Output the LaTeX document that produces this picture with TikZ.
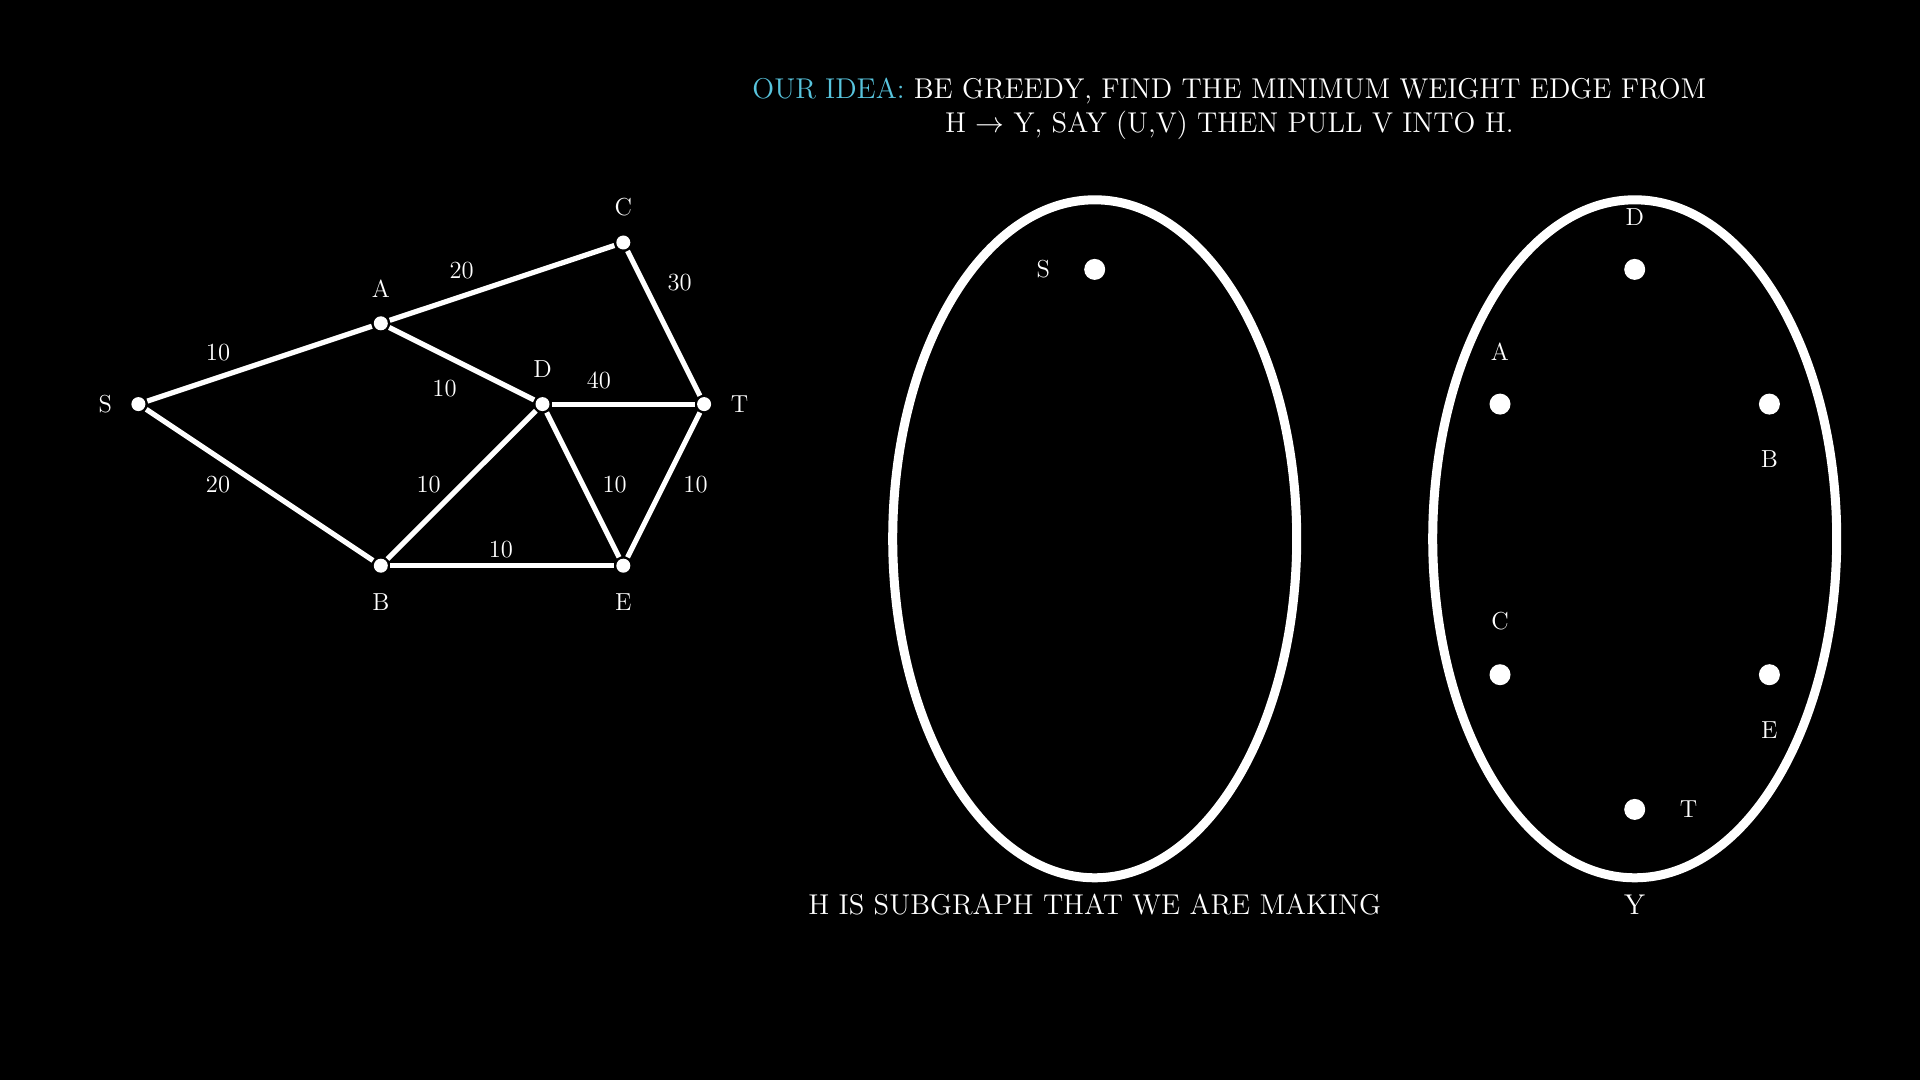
\documentclass[tikz,border=0pt]{standalone}
\usepackage{xcolor}
\usepackage{tikz}
\usetikzlibrary{shapes.geometric,positioning}

\definecolor{ideablue}{HTML}{58C4DD}

\begin{document}
\begin{tikzpicture}[
    x=0.5pt, y=-0.5pt,
    vert/.style={circle, fill=white, minimum size=7pt, inner sep=0pt, outer sep=1.2pt},
    bigvert/.style={circle, fill=white, minimum size=10.5pt, inner sep=0pt},
    lbl/.style={text=white, font=\fontsize{12.3}{14}\selectfont, inner sep=1pt},
    wt/.style={text=white, font=\fontsize{12.3}{14}\selectfont, inner sep=1pt},
    txt/.style={text=white, font=\fontsize{14.3}{17.2}\selectfont, align=center},
    edge/.style={white, line width=2.6pt},
    set/.style={draw=white, ellipse, line width=4.5pt, minimum width=202pt, minimum height=339pt, inner sep=0pt},
]

\useasboundingbox (0,0) rectangle (1920,1080);
\fill[black] (0,0) rectangle (1920,1080);

% Title
\node[txt] (title) at (1229.4,109.0) {\textcolor{ideablue}{OUR IDEA:} BE GREEDY, FIND THE MINIMUM WEIGHT EDGE FROM\\
  H $\rightarrow$ Y, SAY (U,V) THEN PULL V INTO H.};

% Graph - vertices
\node[vert] (S) at (138.4,404.1) {};
\node[vert] (A) at (380.8,323.3) {};
\node[vert] (C) at (623.3,242.5) {};
\node[vert] (D) at (542.5,404.1) {};
\node[vert] (T) at (704.1,404.1) {};
\node[vert] (B) at (380.8,565.7) {};
\node[vert] (E) at (623.3,565.7) {};

% Graph - vertex labels
\node[lbl] (lS) at (105.3,404.1) {S};
\node[lbl] (lA) at (380.8,289.0) {A};
\node[lbl] (lC) at (623.3,207.0) {C};
\node[lbl] (lD) at (542.5,368.6) {D};
\node[lbl] (lT) at (739.6,404.1) {T};
\node[lbl] (lB) at (380.8,602.5) {B};
\node[lbl] (lE) at (623.3,602.5) {E};

% Graph - edges
\draw[edge] (S) -- (A);
\draw[edge] (A) -- (C);
\draw[edge] (C) -- (T);
\draw[edge] (A) -- (D);
\draw[edge] (D) -- (T);
\draw[edge] (S) -- (B);
\draw[edge] (B) -- (D);
\draw[edge] (D) -- (E);
\draw[edge] (T) -- (E);
\draw[edge] (B) -- (E);

% Graph - weights
\node[wt] (wSA) at (218.0,352.7) {10};
\node[wt] (wAC) at (461.6,270.6) {20};
\node[wt] (wCT) at (679.6,282.9) {30};
\node[wt] (wAD) at (444.5,388.2) {10};
\node[wt] (wDT) at (598.8,380.8) {40};
\node[wt] (wSB) at (218.0,484.9) {20};
\node[wt] (wBD) at (428.6,484.9) {10};
\node[wt] (wDE) at (614.7,484.9) {10};
\node[wt] (wET) at (695.5,484.9) {10};
\node[wt] (wBE) at (500.8,549.8) {10};

% Set H
\node[set] (H) at (1094.7,538.8) {};
\node[bigvert] (hS) at (1094.7,269.4) {};
\node[lbl] (lhS) at (1043.3,269.4) {S};
\node[txt] (capH) at (1094.7,905.0) {H IS SUBGRAPH THAT WE ARE MAKING};

% Set Y
\node[set] (Y) at (1634.7,538.8) {};
\node[bigvert] (yD) at (1634.7,269.4) {};
\node[bigvert] (yA) at (1500.0,404.1) {};
\node[bigvert] (yB) at (1769.4,404.1) {};
\node[bigvert] (yC) at (1500.0,674.7) {};
\node[bigvert] (yE) at (1769.4,674.7) {};
\node[bigvert] (yT) at (1634.7,809.4) {};
\node[lbl] (lyD) at (1634.7,216.7) {D};
\node[lbl] (lyA) at (1500.0,351.4) {A};
\node[lbl] (lyB) at (1769.4,459.2) {B};
\node[lbl] (lyC) at (1500.0,620.8) {C};
\node[lbl] (lyE) at (1769.4,729.8) {E};
\node[lbl] (lyT) at (1688.6,809.4) {T};
\node[txt] (capY) at (1634.7,905.0) {Y};

\end{tikzpicture}
\end{document}
